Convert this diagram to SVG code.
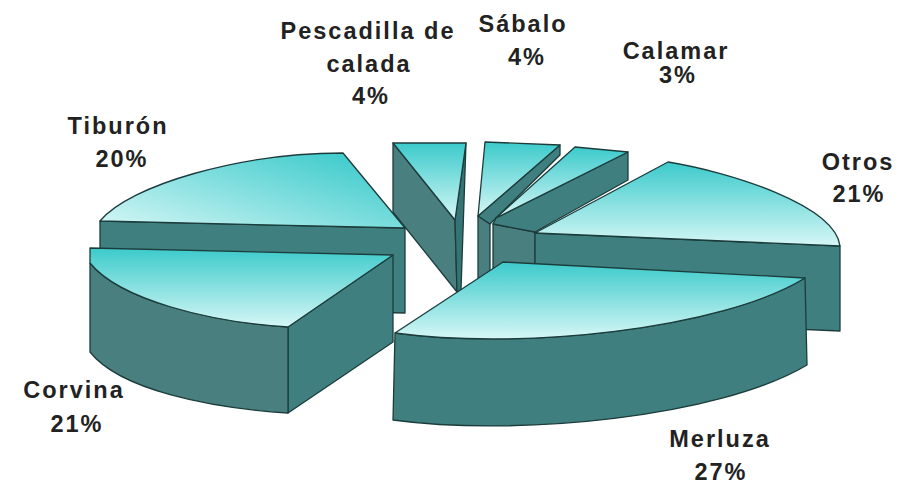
<svg xmlns="http://www.w3.org/2000/svg" width="900" height="485" viewBox="0 0 900 485">
<defs>
<linearGradient id="top" x1="0" y1="0" x2="0" y2="1">
<stop offset="0" stop-color="#3ccacb"/>
<stop offset="1" stop-color="#d6f7f6"/>
</linearGradient>
<linearGradient id="topT" x1="1" y1="0.2" x2="0" y2="1">
<stop offset="0" stop-color="#3ccacb"/>
<stop offset="1" stop-color="#d6f7f6"/>
</linearGradient>
<style>
.t{fill:url(#top);stroke:#1c3c3c;stroke-width:1.3;stroke-linejoin:round}
.tt{fill:url(#topT);stroke:#1c3c3c;stroke-width:1.3;stroke-linejoin:round}
.s{fill:#3f7f7f;stroke:#1c3c3c;stroke-width:1.3;stroke-linejoin:round}
.s2{fill:#4a7f7f;stroke:#1c3c3c;stroke-width:1.3;stroke-linejoin:round}
.s3{fill:#357474;stroke:#1c3c3c;stroke-width:1.3;stroke-linejoin:round}
.lbl{font-family:"Liberation Sans",Arial,sans-serif;font-weight:bold;font-size:23.5px;letter-spacing:2px;fill:#222;text-anchor:middle}
</style>
</defs>
<rect width="900" height="485" fill="#ffffff"/>

<g id="pescadilla">
<path class="s2" d="M393,143 L455,220 L457,292 L393,212 Z"/>
<path class="s3" d="M455,220 L466,143 L461,290 L457,292 Z"/>
<path class="t" d="M393,143 L466,143 L455,220 Z"/>
</g>

<g id="sabalo">
<path class="s2" d="M478,216 L490,224 L490,290 L478,290 Z"/>
<path class="s" d="M560,145 L560,155 L490,224 L478,216 Z"/>
<path class="t" d="M485,142 L560,145 L478,216 Z"/>
</g>

<g id="calamar">
<path class="s2" d="M493,224 L535,232 L535,300 L493,300 Z"/>
<path class="s" d="M628,152 L628,180 L535,232 L493,224 L496,218 Z"/>
<path class="t" d="M575,147 L628,152 L496,218 Z"/>
</g>

<g id="otros">
<path class="s" d="M535,233 L840,246 L840,331 L535,318 Z"/>
<path class="t" d="M535,233 L668,162 C730,172 835,205 840,246 Z"/>
</g>

<g id="tiburon">
<path class="s" d="M100,221 L405,228 L405,313 L100,306 Z"/>
<path class="tt" d="M100,221 C130,185 240,153 343,153 L405,228 Z"/>
</g>

<g id="corvina">
<path class="s" d="M288,327 L393,255 L393,342 L288,413 Z"/>
<path class="s2" d="M90,263 C120,300 210,322 288,327 L288,413 C210,408 120,390 90,352 Z"/>
<path class="t" d="M90,248 L393,255 L288,327 C210,322 120,300 90,263 Z"/>
</g>

<g id="merluza">
<path class="s" d="M395,333 C520,350 720,330 805,278 L807,365 C720,417 518,437 393,420 Z"/>
<path class="t" d="M395,333 L503,262 L805,278 C720,330 520,350 395,333 Z"/>
</g>

<g id="labels">
<text class="lbl" x="368" y="39">Pescadilla de</text>
<text class="lbl" x="369" y="72">calada</text>
<text class="lbl" x="371" y="104">4%</text>
<text class="lbl" x="523" y="32">Sábalo</text>
<text class="lbl" x="527" y="65">4%</text>
<text class="lbl" x="676" y="59">Calamar</text>
<text class="lbl" x="678" y="83">3%</text>
<text class="lbl" x="118" y="134">Tiburón</text>
<text class="lbl" x="122" y="167">20%</text>
<text class="lbl" x="74" y="398">Corvina</text>
<text class="lbl" x="77" y="432">21%</text>
<text class="lbl" x="858" y="170">Otros</text>
<text class="lbl" x="859" y="202">21%</text>
<text class="lbl" x="720" y="447">Merluza</text>
<text class="lbl" x="721" y="480">27%</text>
</g>
</svg>
